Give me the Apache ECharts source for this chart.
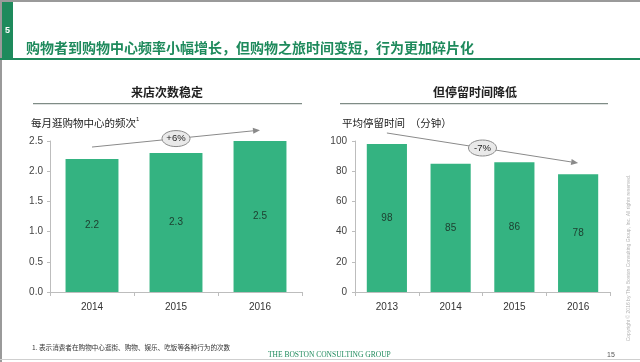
<!DOCTYPE html>
<html><head><meta charset="utf-8">
<script src="https://cdn.jsdelivr.net/npm/echarts@6/dist/echarts.min.js"></script>
<style>html,body{margin:0;padding:0;background:#fff}#c{width:640px;height:362px}</style>
</head><body><div id="c"></div>
<script>
const leftCategories = ['2014', '2015', '2016'];
const leftValues = [2.2, 2.3, 2.5];
const leftTicks = [0, 0.5, 1.0, 1.5, 2.0, 2.5];
const rightCategories = ['2013', '2014', '2015', '2016'];
const rightValues = [98, 85, 86, 78];
const rightTicks = [0, 20, 40, 60, 80, 100];
const leftTrend = { from: ['2014', 2.40], to: ['2016', 2.68], text: '+6%' };
const rightTrend = { from: ['2013', 105.3], to: ['2016', 85.4], text: '-7%' };

const GREEN = '#34b381';
const DARK_GREEN = '#1e8a5c';
const CJK = '"Noto Sans CJK SC","Noto Sans",sans-serif';
const LAT = '"Liberation Sans",Arial,sans-serif';

const chart = echarts.init(document.getElementById('c'), null, {renderer: 'canvas'});

function xAxis(cats, gi) {
  return {
    type: 'category', data: cats, gridIndex: gi,
    axisLine: {lineStyle: {color: '#bdbdbd', width: 1}},
    axisTick: {show: true, length: 4, lineStyle: {color: '#bdbdbd'}},
    axisLabel: {color: '#333', fontSize: 10, fontFamily: LAT, margin: 10}
  };
}
function yAxis(ticks, gi, fmt, margin) {
  return {
    type: 'value', gridIndex: gi, min: ticks[0], max: ticks[ticks.length - 1],
    interval: ticks[1] - ticks[0],
    axisLine: {show: true, lineStyle: {color: '#bdbdbd', width: 1}},
    axisTick: {show: true, length: 3, lineStyle: {color: '#bdbdbd'}},
    splitLine: {show: false},
    axisLabel: {color: '#444', fontSize: 10, fontFamily: LAT, margin: margin, formatter: fmt}
  };
}
function barSeries(vals, gi) {
  return {
    type: 'bar', data: vals, xAxisIndex: gi, yAxisIndex: gi,
    barCategoryGap: '37%',
    itemStyle: {color: GREEN},
    label: {show: true, position: 'inside', color: '#1d4030', fontSize: 10, fontFamily: LAT,
      formatter: p => gi === 0 ? p.value.toFixed(1) : String(p.value)}
  };
}

const staticGraphics = [
  {type: 'rect', shape: {x: 0, y: 0, width: 640, height: 2}, style: {fill: '#9a9a9a'}},
  {type: 'rect', shape: {x: 0, y: 0, width: 2, height: 362}, style: {fill: '#9a9a9a'}},
  {type: 'rect', shape: {x: 2, y: 2, width: 11, height: 57}, style: {fill: DARK_GREEN}},
  {type: 'text', x: 7.5, y: 31, style: {text: '5', fill: '#fff', font: 'bold 9px ' + LAT, align: 'center', verticalAlign: 'middle'}},
  {type: 'rect', shape: {x: 0, y: 58, width: 640, height: 2}, style: {fill: DARK_GREEN}},
  {type: 'text', x: 26, y: 48, style: {text: '购物者到购物中心频率小幅增长，但购物之旅时间变短，行为更加碎片化', fill: DARK_GREEN, font: 'bold 14px ' + CJK, verticalAlign: 'middle'}},
  {type: 'text', x: 167, y: 92, style: {text: '来店次数稳定', fill: '#222', font: 'bold 12px ' + CJK, align: 'center', verticalAlign: 'middle'}},
  {type: 'rect', shape: {x: 33, y: 103, width: 269, height: 1.2}, style: {fill: '#7f8c86'}},
  {type: 'text', x: 475, y: 92, style: {text: '但停留时间降低', fill: '#222', font: 'bold 12px ' + CJK, align: 'center', verticalAlign: 'middle'}},
  {type: 'rect', shape: {x: 340, y: 103, width: 268, height: 1.2}, style: {fill: '#7f8c86'}},
  {type: 'text', x: 31, y: 123, style: {text: '每月逛购物中心的频次', fill: '#222', font: '10.5px ' + CJK, verticalAlign: 'middle'}},
  {type: 'text', x: 136, y: 119, style: {text: '1', fill: '#222', font: '6px ' + LAT, verticalAlign: 'middle'}},
  {type: 'text', x: 342, y: 123, style: {text: '平均停留时间  （分钟）', fill: '#222', font: '10.5px ' + CJK, verticalAlign: 'middle'}},
  {type: 'text', x: 32, y: 347, style: {text: '1. 表示消费者在购物中心逛街、购物、娱乐、吃饭等各种行为的次数', fill: '#333', font: '6.6px ' + CJK, verticalAlign: 'middle'}},
  {type: 'text', x: 268, y: 355, style: {text: 'THE BOSTON CONSULTING GROUP', fill: DARK_GREEN, font: '7.5px "Liberation Serif",serif', verticalAlign: 'middle'}},
  {type: 'text', x: 607, y: 355, style: {text: '15', fill: '#555', font: '7px ' + LAT, verticalAlign: 'middle'}},
  {type: 'rect', shape: {x: 0, y: 359, width: 640, height: 1}, style: {fill: '#cfcfcf'}},
  {type: 'text', x: 629, y: 258, rotation: Math.PI / 2, style: {text: 'Copyright © 2016 by The Boston Consulting Group, Inc. All rights reserved.', fill: '#b5b5b5', font: '5px ' + LAT, align: 'center', verticalAlign: 'middle'}}
];

chart.setOption({
  animation: false,
  grid: [
    {left: 50, right: 338, top: 141, bottom: 70},
    {left: 355, right: 30, top: 141, bottom: 70}
  ],
  xAxis: [xAxis(leftCategories, 0), xAxis(rightCategories, 1)],
  yAxis: [yAxis(leftTicks, 0, v => v.toFixed(1), 7), yAxis(rightTicks, 1, v => String(v), 8)],
  series: [barSeries(leftValues, 0), barSeries(rightValues, 1)],
  graphic: staticGraphics
});

function trendGraphics(trend, gi) {
  const p0 = chart.convertToPixel({gridIndex: gi}, trend.from);
  const p1 = chart.convertToPixel({gridIndex: gi}, trend.to);
  const ang = Math.atan2(p1[1] - p0[1], p1[0] - p0[0]);
  const L = 7, W = 3;
  const bx = p1[0] - L * Math.cos(ang), by = p1[1] - L * Math.sin(ang);
  const nx = -Math.sin(ang) * W, ny = Math.cos(ang) * W;
  const mx = (p0[0] + p1[0]) / 2, my = (p0[1] + p1[1]) / 2;
  return [
    {type: 'line', shape: {x1: p0[0], y1: p0[1], x2: bx, y2: by}, style: {stroke: '#8a8a8a', lineWidth: 1}},
    {type: 'polygon', shape: {points: [[p1[0], p1[1]], [bx + nx, by + ny], [bx - nx, by - ny]]}, style: {fill: '#8a8a8a'}},
    {type: 'ellipse', shape: {cx: mx, cy: my, rx: 14, ry: 8}, style: {fill: '#e9e9e9', stroke: '#8a8a8a', lineWidth: 1}},
    {type: 'text', x: mx, y: my, style: {text: trend.text, fill: '#222', font: '9.5px ' + LAT, align: 'center', verticalAlign: 'middle'}}
  ];
}

chart.setOption({
  graphic: staticGraphics.concat(trendGraphics(leftTrend, 0), trendGraphics(rightTrend, 1))
});
</script></body></html>
